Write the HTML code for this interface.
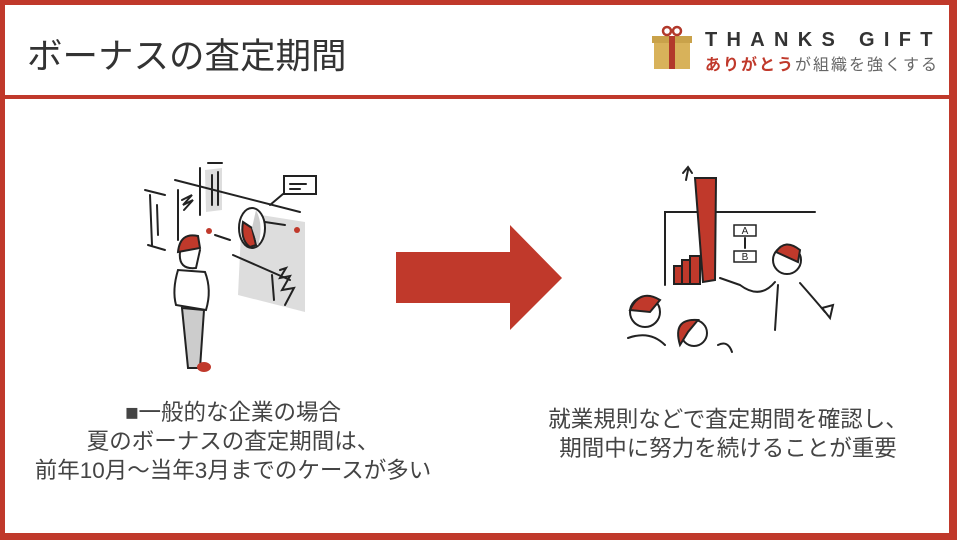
<!DOCTYPE html>
<html><head><meta charset="utf-8"><style>
body{margin:0;width:960px;height:540px;background:#fff;position:relative;overflow:hidden;font-family:"Liberation Sans","Noto Sans CJK JP",sans-serif;}
.frame{position:absolute;left:0;top:0;width:957px;height:540px;box-sizing:border-box;border:solid #c0392b;border-width:5px 8px 7px 5px;}
.div{position:absolute;left:0;top:95px;width:957px;height:4px;background:#c0392b;}
.title{position:absolute;left:27px;top:28px;font-size:35.5px;color:#333;white-space:nowrap;}
.t1{position:absolute;left:705px;top:29px;font-size:20px;font-weight:bold;color:#333;letter-spacing:9.3px;font-family:"Liberation Sans",sans-serif;white-space:nowrap;}
.t2{position:absolute;left:705px;top:51px;font-size:16px;color:#666;white-space:nowrap;letter-spacing:2px;}
.t2 b{color:#c0392b;}
.cap{position:absolute;font-size:22.5px;color:#444;text-align:center;line-height:29px;white-space:nowrap;}
</style></head><body>
<div class="frame"></div><div class="div"></div>
<div class="title">ボーナスの査定期間</div>
<svg style="position:absolute;left:648px;top:24px" width="50" height="48">
<rect x="4" y="12" width="40" height="7" fill="#c9a24a"/>
<rect x="6" y="19" width="36" height="26" fill="#d8b25a"/>
<rect x="21" y="12" width="6" height="33" fill="#b2392b"/>
<circle cx="19" cy="7" r="4" fill="none" stroke="#b2392b" stroke-width="2.5"/>
<circle cx="29" cy="7" r="4" fill="none" stroke="#b2392b" stroke-width="2.5"/>
</svg>
<div class="t1">THANKS GIFT</div>
<div class="t2"><b>ありがとう</b>が組織を強くする</div>

<svg style="position:absolute;left:0;top:0" width="960" height="540" fill="none" stroke="#222" stroke-width="2" stroke-linecap="round">
<polygon points="396,252 510,252 510,225 562,278 510,330 510,303 396,303" fill="#c0392b" stroke="none"/>
<polygon points="242,212 305,222 305,312 238,295" fill="#ddd" stroke="none"/>
<polygon points="205,170 222,168 222,210 206,212" fill="#ddd" stroke="none"/>
<line x1="175" y1="180" x2="300" y2="212"/>
<line x1="178" y1="190" x2="178" y2="240"/>
<line x1="145" y1="190" x2="165" y2="195"/><line x1="150" y1="195" x2="152" y2="245"/>
<line x1="157" y1="205" x2="158" y2="235"/><line x1="148" y1="245" x2="165" y2="250"/>
<line x1="200" y1="168" x2="200" y2="215"/><line x1="208" y1="163" x2="222" y2="163"/>
<line x1="212" y1="175" x2="212" y2="205"/><line x1="218" y1="172" x2="218" y2="205"/>
<polyline points="182,200 192,195 183,205 193,200 184,210"/>
<rect x="284" y="176" width="32" height="18" fill="#fff"/>
<line x1="290" y1="184" x2="306" y2="184"/><line x1="290" y1="189" x2="300" y2="189"/>
<line x1="283" y1="194" x2="270" y2="205"/>
<ellipse cx="252" cy="228" rx="13" ry="20" fill="#fff"/>
<path d="M252,228 L243,222 Q240,240 250,247 L256,245 Z" fill="#c0392b"/>
<path d="M252,228 L256,210 Q264,225 258,246 Z" fill="#ccc" stroke="none"/>
<line x1="265" y1="222" x2="285" y2="225"/>
<line x1="215" y1="235" x2="230" y2="240"/><line x1="233" y1="255" x2="290" y2="280"/>
<circle cx="209" cy="231" r="3" fill="#c0392b" stroke="none"/>
<circle cx="297" cy="230" r="3" fill="#c0392b" stroke="none"/>
<polyline points="280,270 286,268 280,278 290,276 282,290 294,288 285,305"/>
<line x1="272" y1="275" x2="274" y2="300"/>
<path d="M178,252 Q180,232 198,236 L200,248 Z" fill="#c0392b"/>
<path d="M180,252 Q178,270 196,268 L200,250"/>
<path d="M178,270 Q172,290 176,305 L206,310 Q212,290 205,272 Z" fill="#fff"/>
<polygon points="182,308 204,310 200,368 188,368" fill="#ccc"/>
<ellipse cx="204" cy="367" rx="7" ry="5" fill="#c0392b" stroke="none"/>
<polyline points="665,285 665,212 815,212"/>
<path d="M686,180 L688,170 M683,173 L688,167 L692,173"/>
<polygon points="695,178 716,178 715,280 703,282" fill="#c0392b" stroke="#222"/>
<rect x="674" y="266" width="8" height="18" fill="#c0392b"/>
<rect x="682" y="260" width="8" height="24" fill="#c0392b"/>
<rect x="690" y="256" width="10" height="28" fill="#c0392b"/>
<rect x="734" y="225" width="22" height="11" stroke-width="1.5"/>
<rect x="734" y="251" width="22" height="11" stroke-width="1.5"/>
<text x="745" y="234" font-size="10" fill="#222" stroke="none" text-anchor="middle">A</text>
<text x="745" y="260" font-size="10" fill="#222" stroke="none" text-anchor="middle">B</text>
<line x1="745" y1="238" x2="745" y2="248"/>
<circle cx="787" cy="260" r="14" fill="#fff"/>
<path d="M776,252 Q785,238 800,250 L798,262 Z" fill="#c0392b"/>
<path d="M775,282 Q760,300 740,285 M720,278 L740,285 M778,285 L775,330 M800,283 Q815,300 825,312"/>
<path d="M822,308 L833,305 L830,318 Z"/>
<circle cx="645" cy="312" r="15" fill="#fff"/>
<path d="M630,310 Q640,288 660,300 L650,312 Z" fill="#c0392b"/>
<path d="M628,338 Q650,330 665,345" />
<circle cx="694" cy="333" r="13" fill="#fff"/>
<path d="M680,345 Q672,318 698,320 L688,332 Z" fill="#c0392b"/>
<path d="M718,345 Q728,340 732,352"/>
</svg>

<div class="cap" style="left:30px;width:406px;top:398px">■一般的な企業の場合<br>夏のボーナスの査定期間は、<br>前年10月～当年3月までのケースが多い</div>
<div class="cap" style="left:528px;width:400px;top:405px">就業規則などで査定期間を確認し、<br>期間中に努力を続けることが重要</div>
</body></html>
